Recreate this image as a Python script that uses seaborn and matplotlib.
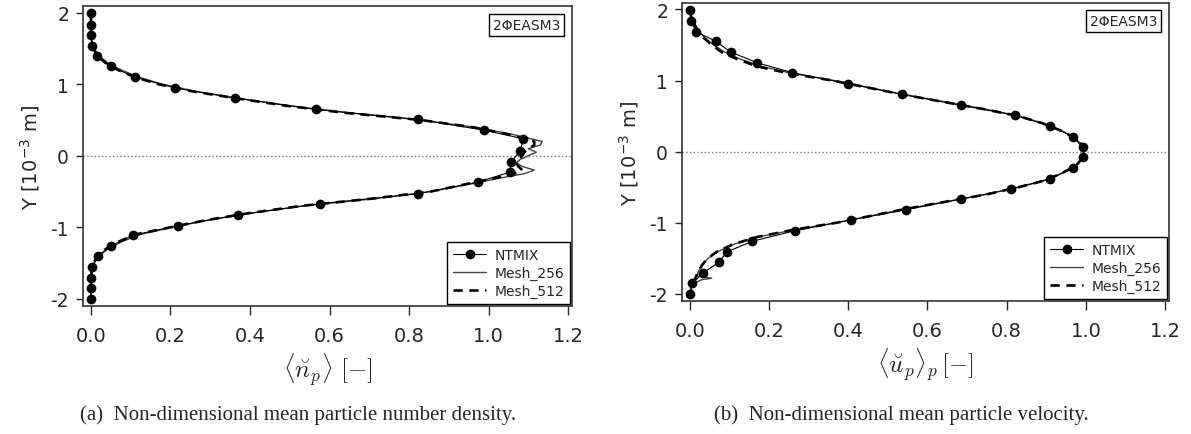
import numpy as np
import matplotlib
matplotlib.use("Agg")
import matplotlib.pyplot as plt
import seaborn as sns

# ---- data ----
# (a) number density, NTMIX reference points
y_ntmix_a = [2.0, 1.83, 1.69, 1.54, 1.39, 1.25, 1.10, 0.947, 0.807, 0.648, 0.508, 0.359,
             0.238, 0.065, -0.089, -0.229, -0.368, -0.531, -0.671, -0.825, -0.975,
             -1.11, -1.26, -1.40, -1.56, -1.71, -1.85, -2.0]
n_ntmix = [0.0, 0.0, 0.0, 0.002, 0.014, 0.050, 0.110, 0.212, 0.362, 0.565, 0.822, 0.989,
           1.087, 1.080, 1.056, 1.054, 0.973, 0.822, 0.575, 0.370, 0.220,
           0.106, 0.050, 0.017, 0.003, 0.0, 0.0, 0.0]

y_mesh_a = [2.0, 1.9, 1.8, 1.7, 1.6, 1.5, 1.4, 1.3, 1.2, 1.1, 1.0, 0.9, 0.8, 0.7, 0.6,
            0.5, 0.4, 0.3, 0.2, 0.15, 0.1, 0.05, 0.0, -0.05, -0.1, -0.15, -0.2, -0.25,
            -0.3, -0.4, -0.5, -0.6, -0.7, -0.8, -0.9, -1.0, -1.1, -1.2, -1.3, -1.4,
            -1.5, -1.6, -1.7, -1.8, -1.9, -2.0]
n_256 = [0.0, 0.0, 0.0, 0.0, 0.003, 0.008, 0.020, 0.042, 0.076, 0.120, 0.180, 0.265,
         0.375, 0.500, 0.650, 0.830, 0.965, 1.060, 1.135, 1.130, 1.100, 1.120, 1.100,
         1.080, 1.070, 1.085, 1.115, 1.090, 1.040, 0.950, 0.855, 0.715, 0.535, 0.405,
         0.295, 0.205, 0.125, 0.078, 0.044, 0.020, 0.008, 0.003, 0.0, 0.0, 0.0, 0.0]
n_512 = [0.0, 0.0, 0.0, 0.0, 0.002, 0.006, 0.016, 0.036, 0.068, 0.110, 0.170, 0.255,
         0.370, 0.490, 0.640, 0.830, 0.960, 1.050, 1.115, 1.115, 1.100, 1.090, 1.085,
         1.075, 1.070, 1.075, 1.085, 1.065, 1.025, 0.940, 0.855, 0.705, 0.530, 0.400,
         0.290, 0.200, 0.112, 0.070, 0.038, 0.017, 0.006, 0.002, 0.0, 0.0, 0.0, 0.0]

# (b) particle velocity, NTMIX reference points
y_ntmix_b = [1.99, 1.835, 1.686, 1.554, 1.40, 1.25, 1.11, 0.956, 0.806, 0.652, 0.512,
             0.362, 0.213, 0.059, -0.081, -0.231, -0.385, -0.526, -0.666, -0.816,
             -0.961, -1.11, -1.26, -1.405, -1.554, -1.708, -1.85, -2.0]
u_ntmix = [0.001, 0.004, 0.015, 0.065, 0.103, 0.170, 0.259, 0.399, 0.535, 0.685, 0.820,
           0.910, 0.967, 0.992, 0.994, 0.968, 0.910, 0.811, 0.685, 0.545,
           0.406, 0.266, 0.158, 0.095, 0.073, 0.033, 0.006, 0.0]

y_mesh_b = [2.0, 1.9, 1.8, 1.7, 1.6, 1.5, 1.4, 1.3, 1.2, 1.1, 1.0, 0.9, 0.8, 0.7, 0.6,
            0.5, 0.4, 0.3, 0.2, 0.1, 0.0, -0.1, -0.2, -0.3, -0.4, -0.5, -0.6, -0.7,
            -0.8, -0.9, -1.0, -1.1, -1.2, -1.3, -1.4, -1.5, -1.6, -1.7, -1.75, -1.78,
            -1.8, -1.85, -1.9, -2.0]
u_256 = [0.0, 0.004, 0.012, 0.022, 0.038, 0.060, 0.088, 0.128, 0.180, 0.258, 0.365,
         0.455, 0.545, 0.645, 0.745, 0.832, 0.892, 0.938, 0.970, 0.990, 0.996, 0.990,
         0.975, 0.940, 0.898, 0.830, 0.750, 0.650, 0.550, 0.460, 0.368, 0.262, 0.172,
         0.112, 0.072, 0.046, 0.030, 0.020, 0.020, 0.055, 0.030, 0.010, 0.004, 0.0]
u_512 = [0.0, 0.003, 0.010, 0.020, 0.035, 0.055, 0.080, 0.120, 0.170, 0.250, 0.360,
         0.450, 0.540, 0.640, 0.740, 0.830, 0.890, 0.935, 0.970, 0.990, 0.995, 0.990,
         0.975, 0.940, 0.900, 0.830, 0.750, 0.650, 0.550, 0.460, 0.370, 0.260, 0.170,
         0.110, 0.070, 0.045, 0.030, 0.020, 0.016, 0.014, 0.012, 0.009, 0.005, 0.0]

xlabels = [r"$\langle \breve{n}_p \rangle\ [-]$", r"$\langle \breve{u}_p \rangle_p\,[-]$"]
captions = ["(a)  Non-dimensional mean particle number density.",
            "(b)  Non-dimensional mean particle velocity."]
model_tag = "2\u03a6EASM3"

# ---- style ----
sns.set_style("ticks")
plt.rcParams["font.family"] = ["DejaVu Sans"]
plt.rcParams["mathtext.fontset"] = "cm"
plt.rcParams["axes.unicode_minus"] = False

fig = plt.figure(figsize=(11.91, 4.35), dpi=100)
ax_a = fig.add_axes([0.0697, 0.2943, 0.4106, 0.6889])
ax_b = fig.add_axes([0.5726, 0.3057, 0.4089, 0.6851])

panels = [
    (ax_a, y_ntmix_a, n_ntmix, y_mesh_a, n_256, n_512),
    (ax_b, y_ntmix_b, u_ntmix, y_mesh_b, u_256, u_512),
]

for i, (ax, y_pts, x_pts, y_mesh, x256, x512) in enumerate(panels):
    ax.axhline(0, color="#777777", ls=":", lw=1.0, zorder=1)
    sns.lineplot(x=x_pts, y=y_pts, ax=ax, sort=False, estimator=None, color="black",
                 lw=0.8, marker="o", markersize=7, markeredgewidth=0,
                 label="NTMIX", zorder=4)
    sns.lineplot(x=x256, y=y_mesh, ax=ax, sort=False, estimator=None, color="#444444",
                 lw=1.0, label="Mesh_256", zorder=3)
    sns.lineplot(x=x512, y=y_mesh, ax=ax, sort=False, estimator=None, color="black",
                 lw=1.9, linestyle=(0, (3.5, 2.5)), label="Mesh_512", zorder=3)

    ax.set_xlim(-0.02, 1.21)
    ax.set_ylim(-2.1, 2.09)
    ax.set_xticks([0.0, 0.2, 0.4, 0.6, 0.8, 1.0, 1.2])
    ax.set_xticklabels(["0.0", "0.2", "0.4", "0.6", "0.8", "1.0", "1.2"])
    ax.set_yticks([-2, -1, 0, 1, 2])
    ax.tick_params(axis="x", direction="out", length=6.5, width=1, pad=8, labelsize=14)
    ax.tick_params(axis="y", direction="out", length=5, width=1, pad=5, labelsize=13.5)
    for sp in ax.spines.values():
        sp.set_visible(True)
        sp.set_linewidth(1.2)
        sp.set_color("#333333")

    ax.set_xlabel(xlabels[i], fontsize=18, labelpad=4)
    ax.set_ylabel("Y [10$^{\\mathregular{-3}}$ m]", fontsize=14, labelpad=6)

    leg = ax.legend(loc="lower right", fontsize=10, frameon=True, fancybox=False,
                    framealpha=1, edgecolor="black", borderaxespad=0.15,
                    handlelength=2.4, labelspacing=0.3, borderpad=0.4,
                    handletextpad=0.6)
    leg.get_frame().set_linewidth(1.0)

    ax.text(0.976, 0.962, model_tag, transform=ax.transAxes, ha="right", va="top",
            fontsize=10, bbox=dict(boxstyle="square,pad=0.3", fc="white",
                                   ec="black", lw=1.0))

fig.text(0.250, 0.046, captions[0], ha="center", va="center", fontsize=15,
         family="Liberation Serif")
fig.text(0.757, 0.046, captions[1], ha="center", va="center", fontsize=15,
         family="Liberation Serif")

fig.savefig("out.png", dpi=100)
